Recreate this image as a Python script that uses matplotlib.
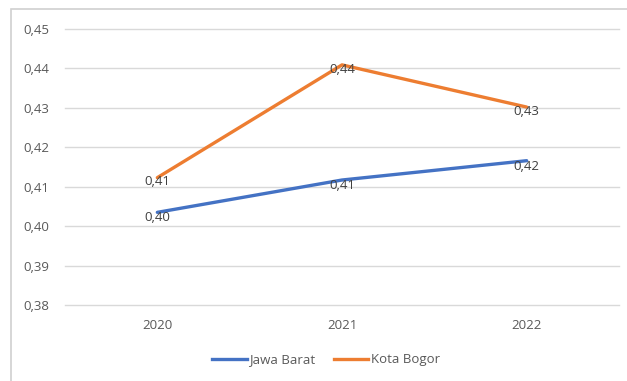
import matplotlib.pyplot as plt
from matplotlib.patches import Rectangle
from matplotlib.ticker import FuncFormatter
from matplotlib.lines import Line2D

years = ["2020", "2021", "2022"]
jawa_barat = [0.4035, 0.4117, 0.4166]
kota_bogor = [0.4123, 0.4409, 0.4302]
y_ticks = [0.38, 0.39, 0.40, 0.41, 0.42, 0.43, 0.44, 0.45]

BLUE = "#4472C4"
ORANGE = "#ED7D31"
TEXT = "#595959"
GRID = "#D9D9D9"

plt.rcParams['font.family'] = ['Open Sans', 'DejaVu Sans']

fig = plt.figure(figsize=(6.27, 3.81), dpi=100)
fig.patch.set_facecolor("white")

# chart frame (runs off the right and bottom edges)
W, H = 627, 381
fig.patches.append(Rectangle((11 / W, -0.05), 1.1, (H - 9) / H + 0.05,
                             transform=fig.transFigure, fill=False,
                             edgecolor="#D0D0D0", linewidth=1.2))

ax = fig.add_axes([65 / W, 1 - 305 / H, (619 - 65) / W, (305 - 29) / H])
x = range(len(years))

ax.plot(x, jawa_barat, color=BLUE, linewidth=2.4, solid_capstyle="round", zorder=3)
ax.plot(x, kota_bogor, color=ORANGE, linewidth=2.4, solid_capstyle="round", zorder=3)

for xi, v in zip(x, jawa_barat):
    ax.annotate(f"{v:.2f}".replace(".", ","), (xi, v), xytext=(0, -4),
                textcoords="offset points", ha="center", va="center",
                fontsize=9.5, color="#404040", zorder=4)
for xi, v in zip(x, kota_bogor):
    ax.annotate(f"{v:.2f}".replace(".", ","), (xi, v), xytext=(0, -3),
                textcoords="offset points", ha="center", va="center",
                fontsize=9.5, color="#404040", zorder=4)

ax.set_xlim(-0.5, 2.5)
ax.set_ylim(0.38, 0.45)
ax.set_yticks(y_ticks)
ax.yaxis.set_major_formatter(FuncFormatter(lambda v, p: f"{v:.2f}".replace(".", ",")))
ax.set_xticks(list(x))
ax.set_xticklabels(years)
ax.tick_params(axis="both", length=0, labelsize=9.5, labelcolor=TEXT)
ax.tick_params(axis="x", pad=10)
for lbl in ax.get_yticklabels():
    lbl.set_horizontalalignment("left")
ax.yaxis.set_tick_params(pad=30)

ax.grid(axis="y", color=GRID, linewidth=1)
for gl in ax.yaxis.get_gridlines():
    gl.set_clip_on(False)
ax.set_axisbelow(True)
for s in ax.spines.values():
    s.set_visible(False)

handles = [Line2D([], [], color=BLUE, linewidth=2.4),
           Line2D([], [], color=ORANGE, linewidth=2.4)]
fig.legend(handles, ["Jawa Barat", "Kota Bogor"], loc="center",
           bbox_to_anchor=(326 / W, 1 - 360 / H), ncol=2, frameon=False,
           fontsize=9.5, labelcolor=TEXT, handlelength=2.6, handletextpad=0.2,
           columnspacing=1.4)

fig.savefig("out.png", dpi=100, facecolor="white")
